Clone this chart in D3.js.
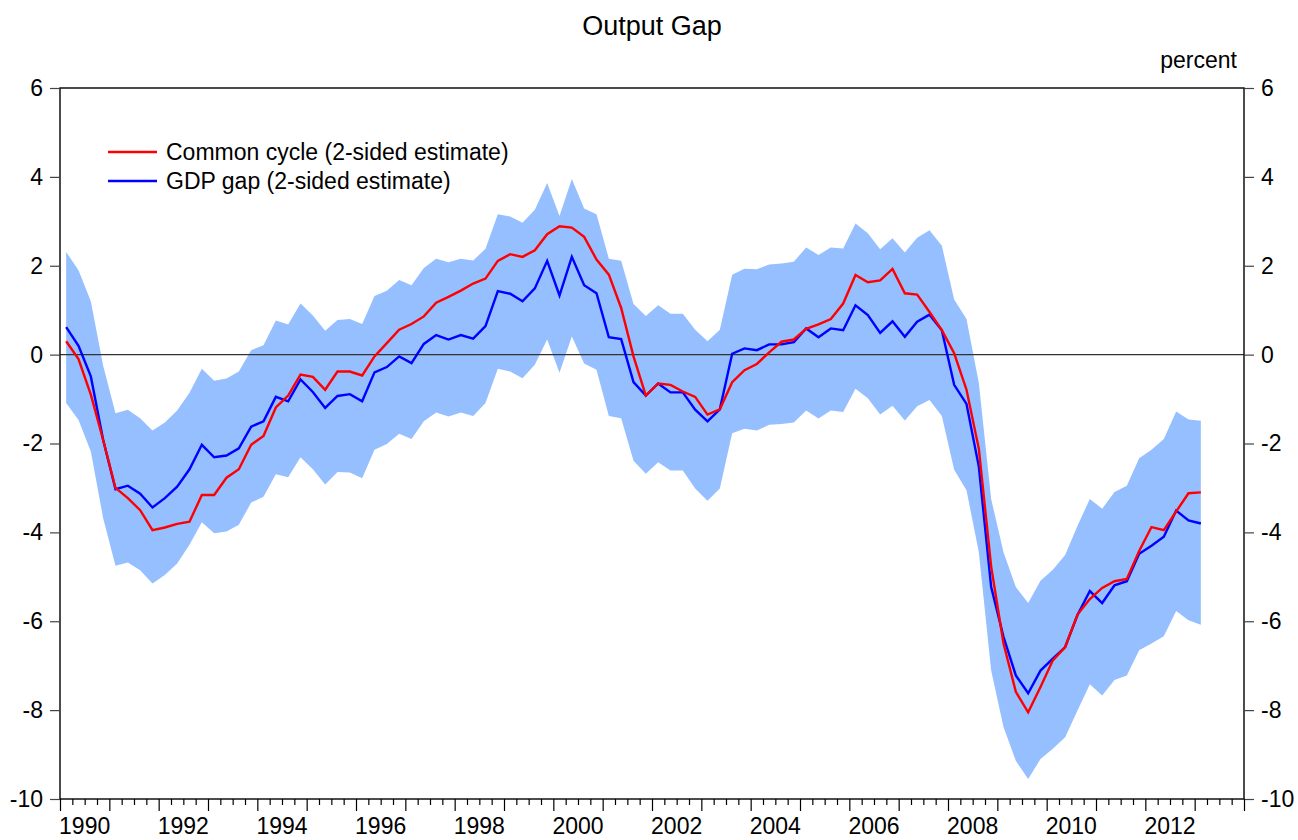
<!DOCTYPE html>
<html>
<head>
<meta charset="utf-8">
<script src="https://cdn.jsdelivr.net/npm/d3@7"></script>
<style>
  html, body { margin: 0; padding: 0; background: #fff; }
  svg { display: block; font-family: "Liberation Sans", Arial, Helvetica, sans-serif; }
</style>
</head>
<body>
<svg id="chart" width="1298" height="840"></svg>
<script>
// ---- Data (quarterly, 1990Q1 .. 2013Q1) ----
const startYear = 1990;
const commonCycle = [0.30,-0.10,-0.90,-1.92,-3.00,-3.23,-3.50,-3.95,-3.89,-3.81,-3.76,-3.16,-3.16,-2.77,-2.58,-2.03,-1.83,-1.19,-0.92,-0.45,-0.50,-0.79,-0.38,-0.38,-0.47,-0.04,0.26,0.56,0.69,0.86,1.17,1.30,1.44,1.60,1.71,2.11,2.26,2.20,2.35,2.71,2.89,2.86,2.65,2.14,1.80,1.05,-0.04,-0.92,-0.65,-0.68,-0.83,-0.95,-1.35,-1.23,-0.62,-0.35,-0.21,0.05,0.29,0.34,0.58,0.68,0.80,1.15,1.79,1.63,1.67,1.93,1.38,1.35,0.96,0.55,0.03,-0.79,-2.12,-4.77,-6.50,-7.59,-8.05,-7.48,-6.88,-6.58,-5.85,-5.50,-5.25,-5.10,-5.05,-4.42,-3.88,-3.95,-3.53,-3.12,-3.10];
const gdpGap = [0.62,0.20,-0.49,-1.92,-3.03,-2.95,-3.13,-3.44,-3.23,-2.97,-2.58,-2.03,-2.31,-2.27,-2.11,-1.62,-1.50,-0.95,-1.05,-0.56,-0.84,-1.20,-0.93,-0.89,-1.05,-0.40,-0.28,-0.04,-0.19,0.24,0.44,0.34,0.44,0.36,0.64,1.43,1.37,1.20,1.49,2.11,1.33,2.20,1.56,1.38,0.39,0.35,-0.62,-0.92,-0.65,-0.85,-0.85,-1.24,-1.50,-1.23,0.02,0.14,0.10,0.23,0.23,0.28,0.59,0.39,0.59,0.55,1.11,0.89,0.49,0.75,0.40,0.74,0.90,0.55,-0.68,-1.11,-2.52,-5.23,-6.35,-7.22,-7.62,-7.11,-6.84,-6.58,-5.86,-5.32,-5.59,-5.19,-5.10,-4.48,-4.30,-4.10,-3.51,-3.73,-3.80];
const bandUpper = [2.31,1.90,1.20,-0.25,-1.32,-1.24,-1.43,-1.71,-1.53,-1.26,-0.86,-0.32,-0.59,-0.54,-0.38,0.10,0.21,0.77,0.68,1.15,0.88,0.54,0.78,0.80,0.69,1.32,1.44,1.68,1.56,1.95,2.16,2.08,2.16,2.12,2.38,3.16,3.11,2.97,3.26,3.86,3.12,3.95,3.29,3.16,2.16,2.11,1.14,0.87,1.11,0.92,0.92,0.56,0.30,0.56,1.80,1.93,1.92,2.03,2.05,2.09,2.41,2.24,2.41,2.39,2.95,2.73,2.37,2.62,2.30,2.63,2.80,2.45,1.24,0.80,-0.64,-3.25,-4.45,-5.23,-5.59,-5.09,-4.84,-4.51,-3.85,-3.25,-3.47,-3.09,-2.95,-2.33,-2.14,-1.90,-1.28,-1.46,-1.49];
const bandLower = [-1.09,-1.47,-2.18,-3.68,-4.75,-4.68,-4.85,-5.15,-4.96,-4.70,-4.28,-3.77,-4.02,-3.98,-3.83,-3.33,-3.20,-2.69,-2.76,-2.31,-2.58,-2.92,-2.64,-2.65,-2.78,-2.14,-2.01,-1.78,-1.90,-1.50,-1.30,-1.39,-1.30,-1.38,-1.09,-0.32,-0.38,-0.53,-0.23,0.34,-0.41,0.41,-0.20,-0.34,-1.38,-1.43,-2.39,-2.68,-2.42,-2.61,-2.61,-3.01,-3.29,-3.01,-1.77,-1.67,-1.71,-1.58,-1.56,-1.53,-1.26,-1.44,-1.26,-1.29,-0.77,-0.98,-1.35,-1.15,-1.48,-1.16,-1.02,-1.38,-2.59,-3.05,-4.45,-7.11,-8.38,-9.14,-9.55,-9.10,-8.87,-8.61,-8.01,-7.42,-7.67,-7.32,-7.22,-6.65,-6.50,-6.34,-5.77,-5.98,-6.08];
const yTicks = [-10,-8,-6,-4,-2,0,2,4,6];
const xYearLabels = [1990,1992,1994,1996,1998,2000,2002,2004,2006,2008,2010,2012];
const seriesNames = ["Common cycle (2-sided estimate)", "GDP gap (2-sided estimate)"];
const seriesColors = ["#ff0000", "#0000ff"];

// ---- Layout ----
const svg = d3.select("#chart");
const L = 60, R = 1244, T = 88, B = 799;
const x = d3.scaleLinear().domain([1990, 2014]).range([L, R]);
const y = d3.scaleLinear().domain([-10, 6]).range([B, T]);
const tq = i => startYear + (i + 0.5) / 4;
const fmt = d => String(d); // plain hyphen-minus as in the reference

const rows = commonCycle.map((v, i) => ({
  t: tq(i), c: v, g: gdpGap[i], hi: bandUpper[i], lo: bandLower[i]
}));

// Band
svg.append("path")
  .datum(rows)
  .attr("fill", "#96bfff")
  .attr("d", d3.area().x(d => x(d.t)).y0(d => y(d.lo)).y1(d => y(d.hi)));

// Zero line
svg.append("line")
  .attr("x1", L).attr("x2", R).attr("y1", y(0)).attr("y2", y(0))
  .attr("stroke", "#333").attr("stroke-width", 1.2);

// Lines
const lineC = d3.line().x(d => x(d.t)).y(d => y(d.c));
const lineG = d3.line().x(d => x(d.t)).y(d => y(d.g));
svg.append("path").datum(rows).attr("fill", "none")
  .attr("stroke", seriesColors[1]).attr("stroke-width", 2.4).attr("stroke-linejoin", "miter")
  .attr("d", lineG);
svg.append("path").datum(rows).attr("fill", "none")
  .attr("stroke", seriesColors[0]).attr("stroke-width", 2.4).attr("stroke-linejoin", "miter")
  .attr("d", lineC);

// Frame
svg.append("rect").attr("x", L).attr("y", T).attr("width", R - L).attr("height", B - T)
  .attr("fill", "none").attr("stroke", "#000").attr("stroke-width", 1.4);

// Y axes
const yAxisL = d3.axisLeft(y).tickValues(yTicks).tickSize(10).tickPadding(7).tickFormat(fmt);
const yAxisR = d3.axisRight(y).tickValues(yTicks).tickSize(10).tickPadding(7).tickFormat(fmt);
const gL = svg.append("g").attr("transform", `translate(${L},0)`).call(yAxisL);
const gR = svg.append("g").attr("transform", `translate(${R},0)`).call(yAxisR);
[gL, gR].forEach(g => {
  g.select(".domain").remove();
  g.selectAll(".tick line").attr("stroke", "#444").attr("stroke-width", 1.2);
  g.selectAll("text").attr("font-size", 23).attr("fill", "#000")
    .attr("font-family", '"Liberation Sans", Arial, sans-serif');
});

// X axis: yearly major ticks, quarterly minor ticks
const majorTicks = d3.range(1990, 2015);
const minorTicks = d3.range(1990, 2014, 0.25).filter(v => v % 1 !== 0);
const xMajor = d3.axisBottom(x).tickValues(majorTicks).tickSize(12).tickFormat("");
const xMinor = d3.axisBottom(x).tickValues(minorTicks).tickSize(6).tickFormat("");
const gxM = svg.append("g").attr("transform", `translate(0,${B})`).call(xMajor);
const gxm = svg.append("g").attr("transform", `translate(0,${B})`).call(xMinor);
[gxM, gxm].forEach(g => {
  g.select(".domain").remove();
  g.selectAll(".tick line").attr("stroke", "#000").attr("stroke-width", 1.2);
});
svg.append("g").selectAll("text").data(xYearLabels).join("text")
  .attr("x", d => x(d + 0.5)).attr("y", 834)
  .attr("text-anchor", "middle").attr("font-size", 23).attr("fill", "#000")
  .text(d => d);

// Title
svg.append("text").attr("x", 652).attr("y", 35).attr("text-anchor", "middle")
  .attr("font-size", 27).attr("fill", "#000").text("Output Gap");
svg.append("text").attr("x", 1237).attr("y", 68).attr("text-anchor", "end")
  .attr("font-size", 23).attr("fill", "#000").text("percent");

// Legend
const leg = svg.append("g");
seriesNames.forEach((name, i) => {
  const ly = 152 + i * 29;
  leg.append("line").attr("x1", 108).attr("x2", 157).attr("y1", ly).attr("y2", ly)
    .attr("stroke", seriesColors[i]).attr("stroke-width", 2.4);
  leg.append("text").attr("x", 166).attr("y", ly + 8).attr("font-size", 23)
    .attr("fill", "#000").text(name);
});
</script>
</body>
</html>
